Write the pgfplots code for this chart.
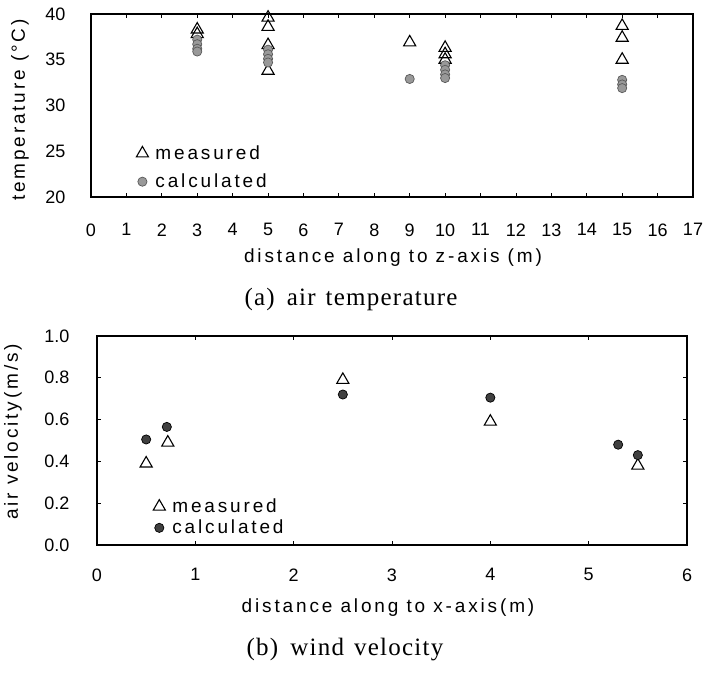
\documentclass[border=0pt]{standalone}
\usepackage{fontspec}
\setmainfont{Liberation Serif}
\setsansfont{Liberation Sans}
\newfontfamily\spaced[LetterSpace=15]{Liberation Sans}
\newfontfamily\capfont[LetterSpace=5]{Liberation Serif}
\usepackage{pgfplots}
\pgfplotsset{compat=1.18}

\pgfplotsset{
  paper/.style={
    scale only axis, tick align=inside, major tick length=4bp,
    axis line style={line width=1.2bp}, tick style={line width=0.8bp,black},
    ticklabel style={font=\fontsize{18bp}{20bp}\sffamily},
    /pgf/number format/assume math mode=true,
    legend style={draw=none, fill=none, font=\fontsize{19bp}{21bp}\spaced,
      inner sep=0pt, /tikz/every odd column/.append style={column sep=5bp}},
    legend cell align=left,
  },
  meas/.style={only marks, mark=triangle, mark size=7bp, black, line width=1.1bp},
  calcA/.style={only marks, mark=*, mark size=4.6bp, draw=black!65, fill=black!40, line width=0.7bp},
  calcB/.style={only marks, mark=*, mark size=4.6bp, draw=black, fill=black!75, line width=0.7bp},
}

\begin{document}
\begin{tikzpicture}
\useasboundingbox (0,0) rectangle (707bp,676bp);

% (a) air temperature
\begin{axis}[paper, at={(91bp,479bp)}, anchor=south west,
  width=602bp, height=183bp,
  xmin=0, xmax=17, ymin=20, ymax=40,
  xtick={0,1,...,17}, ytick={20,25,...,40},
  ytick style={draw=none},
  xticklabel style={yshift=-23bp}, yticklabel style={xshift=-22bp},
  legend style={at={(0.075,0.03)}, anchor=south west, row sep=9bp},
]
\addplot[meas] coordinates {
  (3,38.3) (3,37.8)
  (5,39.6) (5,38.6) (5,36.6) (5,33.8)
  (9,36.9)
  (10,36.3) (10,35.6) (10,35.0)
  (15,38.7) (15,37.4) (15,35.0)
};
\addplot[calcA] coordinates {
  (3,37.2) (3,36.7) (3,36.2) (3,35.9)
  (5,36.1) (5,35.6) (5,35.1) (5,34.7)
  (9,32.9)
  (10,34.4) (10,33.9) (10,33.4) (10,33.0)
  (15,32.8) (15,32.3) (15,31.9)
};
\legend{measured, calculated}
\end{axis}
\node[font=\fontsize{19bp}{21bp}\spaced, rotate=90] at (20bp,566bp) {temperature (°C)};
\node[font=\fontsize{19bp}{21bp}\spaced] at (393bp,418bp) {distance along to z-axis (m)};
\node[font=\fontsize{25bp}{27bp}\capfont] at (351bp,377bp) {(a)\hspace{12bp}air\hspace{10bp}temperature};

% (b) wind velocity
\begin{axis}[paper, at={(97bp,131bp)}, anchor=south west,
  width=590bp, height=209bp,
  xmin=0, xmax=6, ymin=0, ymax=1,
  xtick={0,1,...,6}, ytick={0,0.2,...,1.0},
  yticklabel style={/pgf/number format/.cd, fixed, fixed zerofill, precision=1, /tikz/.cd, xshift=-24bp},
  xticklabel style={yshift=-20bp},
  legend style={at={(0.095,0.035)}, anchor=south west, row sep=2bp},
]
\addplot[meas] coordinates {
  (0.5,0.39) (0.72,0.49) (2.5,0.79) (4.0,0.59) (5.5,0.38)
};
\addplot[calcB] coordinates {
  (0.5,0.505) (0.71,0.565) (2.5,0.72) (4.0,0.705) (5.3,0.48) (5.5,0.43)
};
\legend{measured, calculated}
\end{axis}
\node[font=\fontsize{19bp}{21bp}\spaced, rotate=90] at (13bp,244bp) {air velocity(m/s)};
\node[font=\fontsize{19bp}{21bp}\spaced] at (388bp,68bp) {distance along to x-axis(m)};
\node[font=\fontsize{25bp}{27bp}\capfont] at (345bp,26bp) {(b)\hspace{12bp}wind\hspace{10bp}velocity};
\end{tikzpicture}
\end{document}
